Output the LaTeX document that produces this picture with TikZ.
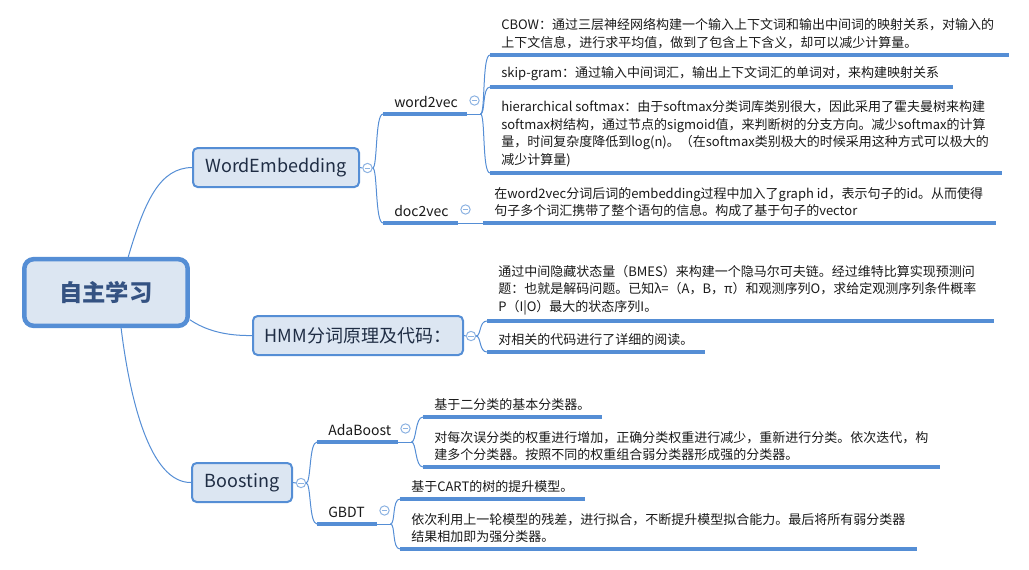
\documentclass[tikz,border=0pt]{standalone}
\usepackage{fontspec}
\setmainfont{Noto Sans CJK SC}
\usepackage{xcolor}
\usepackage{tikz}
\usetikzlibrary{arrows.meta, shapes}

\definecolor{rahmenblau}{RGB}{85,142,213}
\definecolor{fuellblau}{RGB}{220,230,242}
\definecolor{klappblau}{RGB}{141,179,226}
\definecolor{textblau}{RGB}{31,45,68}
\definecolor{wurzelblau}{RGB}{52,82,130}

\begin{document}
\begin{tikzpicture}[x=0.75pt, y=-0.75pt, font=\fontsize{9.75}{13.1}\selectfont,
    wurzel/.style={draw=rahmenblau, fill=fuellblau, line width=3.4pt, rounded corners=7pt,
        minimum width=122.5pt, minimum height=50pt, text=wurzelblau,
        font=\fontsize{17.5}{20}\selectfont\bfseries},
    ast/.style={draw=rahmenblau, fill=fuellblau, line width=1.5pt, rounded corners=3.5pt,
        minimum height=29.25pt, text=textblau, font=\fontsize{13.5}{16}\selectfont},
    thematext/.style={inner sep=0pt, text=black!90, font=\fontsize{10.5}{12}\selectfont},
    blatttext/.style={inner sep=0pt, align=left, text=black!90},
    linie/.style={draw=rahmenblau, line width=2.4pt},
    verbindung/.style={draw=rahmenblau, line width=0.75pt},
    klapp/.style={circle, draw=klappblau, fill=white, line width=0.75pt, minimum size=7pt, inner sep=0pt,
        path picture={\draw[klappblau, line width=0.75pt] ([xshift=1.6pt]path picture bounding box.west) -- ([xshift=-1.6pt]path picture bounding box.east);}}
]

    % --- 1. RAHMEN (Pixelmass des Bildes) ---
    \useasboundingbox (0,0) rectangle (1029,569);

    % --- 2. MAKROS ---
    % Unterthema mit Unterstrich, Klappsymbol und kurzem Auslauf
    \newcommand{\thema}[5]{
        \coordinate (#1) at (#2,#3);
        \coordinate (#1-e) at (#4,#3);
        \draw[linie] (#1) -- (#1-e);
        \node[thematext, anchor=base west] (#1-t) at (#2+11,#3-7) {#5};
        \node[klapp] (#1-k) at (#4+7.5,#3-13.5) {};
        \coordinate (#1-a) at (#4+13.5,#3);
        \draw[verbindung] (#1-e) -- (#1-a);
    }
    % Blatt: Text ueber einer dicken Linie
    \newcommand{\blatt}[5]{
        \coordinate (#1) at (#2,#3);
        \draw[linie] (#1) -- (#4,#3);
        \node[blatttext, anchor=south west] (#1-t) at (#2+11,#3-6) {#5};
    }

    % --- 3. HAUPTKNOTEN ---
    \node[wurzel] (root) at (106,292.5) {自主学习};
    \node[ast, minimum width=124.5pt] (we) at (276,167.5) {WordEmbedding};
    \node[ast, minimum width=157.5pt] (hmm) at (358,335.5) {HMM分词原理及代码：};
    \node[ast, minimum width=75pt] (boost) at (242,482.5) {Boosting};

    \draw[verbindung] (root.58) .. controls (145,200) and (160,168) .. (we.west);
    \draw[verbindung] (root.-18) .. controls (205,330) and (225,336) .. (hmm.west);
    \draw[verbindung] (root.-67) .. controls (130,400) and (150,483) .. (boost.west);

    % Klappsymbole rechts an den Kaesten
    \node[klapp] (weK) at (367.5,168) {};
    \node[klapp] (hmmK) at (471,336) {};
    \node[klapp] (boostK) at (301,483) {};
    \draw[verbindung] (we.east) -- (weK.west);
    \draw[verbindung] (hmm.east) -- (hmmK.west);
    \draw[verbindung] (boost.east) -- (boostK.west);

    % --- 4. WORDEMBEDDING ---
    \thema{w2v}{383}{114}{467}{word2vec}
    \thema{d2v}{383}{223}{458}{doc2vec}
    \draw[verbindung] (weK.east) .. controls +(5,0) and +(-8,0) .. (w2v);
    \draw[verbindung] (weK.east) .. controls +(5,0) and +(-8,0) .. (d2v);

    \blatt{cbow}{490}{55}{1009}{CBOW：通过三层神经网络构建一个输入上下文词和输出中间词的映射关系，对输入的\\上下文信息，进行求平均值，做到了包含上下含义，却可以减少计算量。}
    \blatt{skip}{490}{87}{953}{skip-gram：通过输入中间词汇，输出上下文词汇的单词对，来构建映射关系}
    \blatt{hier}{490}{173}{1002}{hierarchical softmax：由于softmax分类词库类别很大，因此采用了霍夫曼树来构建\\softmax树结构，通过节点的sigmoid值，来判断树的分支方向。减少softmax的计算\\量，时间复杂度降低到log(n)。（在softmax类别极大的时候采用这种方式可以极大的\\减少计算量)}
    \draw[verbindung] (w2v-a) .. controls +(5,0) and +(-8,0) .. (cbow);
    \draw[verbindung] (w2v-a) .. controls +(5,0) and +(-8,0) .. (skip);
    \draw[verbindung] (w2v-a) .. controls +(5,0) and +(-8,0) .. (hier);

    \blatt{doc}{483}{223}{996}{在word2vec分词后词的embedding过程中加入了graph id，表示句子的id。从而使得\\句子多个词汇携带了整个语句的信息。构成了基于句子的vector}
    \draw[verbindung] (d2v-a) -- (doc);

    % --- 5. HMM ---
    \blatt{viterbi}{487}{321}{994}{通过中间隐藏状态量（BMES）来构建一个隐马尔可夫链。经过维特比算实现预测问\\题：也就是解码问题。已知λ=（A，B，π）和观测序列O，求给定观测序列条件概率\\P（I|O）最大的状态序列I。}
    \blatt{code}{487}{352}{705}{对相关的代码进行了详细的阅读。}
    \draw[verbindung] (hmmK.east) .. controls +(5,0) and +(-8,0) .. (viterbi);
    \draw[verbindung] (hmmK.east) .. controls +(5,0) and +(-8,0) .. (code);

    % --- 6. BOOSTING ---
    \thema{ada}{317}{442}{398}{AdaBoost}
    \thema{gbdt}{317}{524}{377}{GBDT}
    \draw[verbindung] (boostK.east) .. controls +(5,0) and +(-8,0) .. (ada);
    \draw[verbindung] (boostK.east) .. controls +(5,0) and +(-8,0) .. (gbdt);

    \blatt{adaeins}{423}{417}{602}{基于二分类的基本分类器。}
    \blatt{adazwei}{423}{467}{940}{对每次误分类的权重进行增加，正确分类权重进行减少，重新进行分类。依次迭代，构\\建多个分类器。按照不同的权重组合弱分类器形成强的分类器。}
    \draw[verbindung] (ada-a) .. controls +(5,0) and +(-8,0) .. (adaeins);
    \draw[verbindung] (ada-a) .. controls +(5,0) and +(-8,0) .. (adazwei);

    \blatt{gbdteins}{400}{499}{585}{基于CART的树的提升模型。}
    \blatt{gbdtzwei}{400}{549}{917}{依次利用上一轮模型的残差，进行拟合，不断提升模型拟合能力。最后将所有弱分类器\\结果相加即为强分类器。}
    \draw[verbindung] (gbdt-a) .. controls +(5,0) and +(-8,0) .. (gbdteins);
    \draw[verbindung] (gbdt-a) .. controls +(5,0) and +(-8,0) .. (gbdtzwei);

\end{tikzpicture}
\end{document}
